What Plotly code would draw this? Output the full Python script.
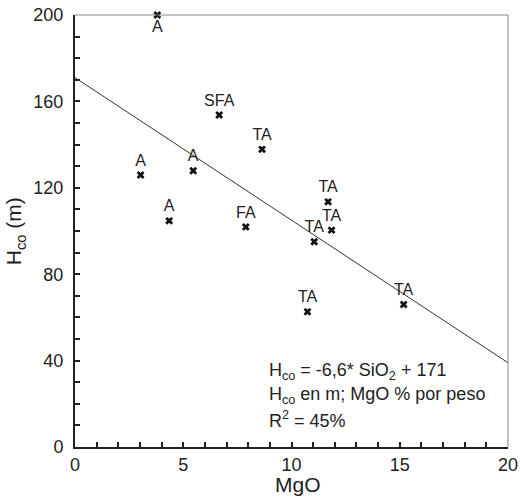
import plotly.graph_objects as go

# Data
mgo = [3.80, 6.66, 8.64, 3.03, 5.46, 4.35, 7.89, 11.69, 11.85, 11.05, 10.74, 15.18]
hco = [200.0, 153.7, 137.8, 125.9, 127.9, 104.7, 101.9, 113.5, 100.4, 95.0, 62.6, 66.0]
labels = ["A", "SFA", "TA", "A", "A", "A", "FA", "TA", "TA", "TA", "TA", "TA"]
label_pos = ["bottom center"] + ["top center"] * 11

fit_slope = -6.6
fit_intercept = 171.0
fit_x = [0, 20]
fit_y = [fit_intercept + fit_slope * x for x in fit_x]

x_ticks = [0, 5, 10, 15, 20]
y_ticks = [0, 40, 80, 120, 160, 200]

FONT = "Liberation Sans, Arial, sans-serif"

fig = go.Figure()
fig.add_trace(go.Scatter(
    x=fit_x, y=fit_y, mode="lines",
    line=dict(color="#333333", width=1), hoverinfo="skip", showlegend=False,
))
fig.add_trace(go.Scatter(
    x=mgo, y=hco, mode="markers+text",
    text=labels, textposition=label_pos,
    textfont=dict(family=FONT, size=16, color="#222222"),
    marker=dict(symbol="x", size=7, color="#111111", line=dict(width=0)),
    showlegend=False, cliponaxis=False,
))

axis_common = dict(
    showgrid=False, zeroline=False, showline=True, linecolor="#222222", linewidth=2,
    ticks="inside", ticklen=5, tickwidth=1.5, tickcolor="#222222", automargin=False,
    tickfont=dict(family=FONT, size=18, color="#222222"),
)
fig.update_xaxes(range=[0, 20], tickvals=x_ticks,
                 minor=dict(dtick=1, ticks="inside", ticklen=5, tickwidth=1.5, tickcolor="#222222"),
                 **axis_common)
fig.update_yaxes(range=[0, 200], tickvals=y_ticks, ticklabelstandoff=6,
                 minor=dict(dtick=10, ticks="inside", ticklen=5, tickwidth=1.5, tickcolor="#222222"),
                 **axis_common)

# top and right frame lines
fig.add_shape(type="line", xref="paper", yref="paper", x0=0, x1=1, y0=1, y1=1,
              line=dict(color="#888888", width=1))
fig.add_shape(type="line", xref="paper", yref="paper", x0=1, x1=1, y0=0, y1=1,
              line=dict(color="#888888", width=1))

ann_font = dict(family=FONT, size=18, color="#222222")
eq_lines = [
    "H<sub>co</sub> = -6,6* SiO<sub>2</sub> + 171",
    "H<sub>co</sub> en m; MgO % por peso",
    "R<sup>2</sup> = 45%",
]
eq_y = [34.8, 24.0, 12.6]
for txt, yy in zip(eq_lines, eq_y):
    fig.add_annotation(x=8.87, y=yy, xref="x", yref="y", text=txt, showarrow=False,
                       xanchor="left", yanchor="middle", font=ann_font)

fig.add_annotation(x=0.514, y=-0.087, xref="paper", yref="paper", text="MgO",
                   showarrow=False, xanchor="center", yanchor="middle",
                   font=dict(family=FONT, size=21, color="#222222"))
fig.add_annotation(x=-0.138, y=0.5, xref="paper", yref="paper", text="H<sub>co</sub> (m)",
                   showarrow=False, xanchor="center", yanchor="middle", textangle=-90,
                   font=dict(family=FONT, size=21, color="#222222"))

fig.update_layout(
    width=521, height=497,
    margin=dict(l=75, r=13, t=15, b=50),
    plot_bgcolor="white", paper_bgcolor="white",
)

fig.write_html("out.html")
